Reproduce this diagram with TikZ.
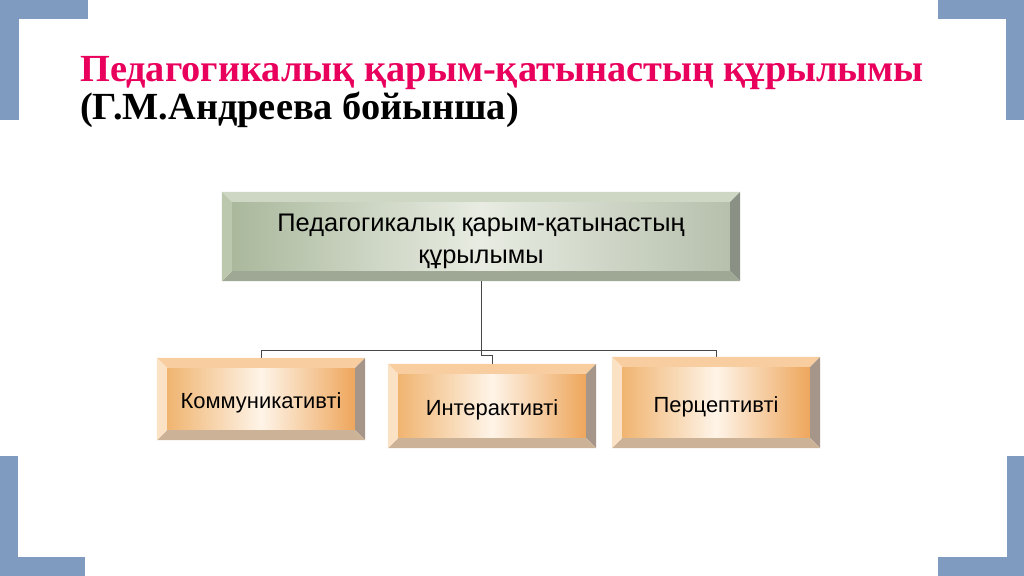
\documentclass[tikz,border=0pt]{standalone}
\usepackage{fontspec}
\setmainfont{Liberation Serif}
\newfontfamily\boxfont{Liberation Sans}
\usetikzlibrary{calc}
\definecolor{frameblue}{RGB}{127,155,192}
\definecolor{titlepink}{RGB}{232,0,92}
\definecolor{gFace}{RGB}{170,184,156}
\definecolor{gRightFace}{RGB}{182,192,172}
\definecolor{gLight}{RGB}{232,236,226}
\definecolor{gT}{RGB}{206,214,196}
\definecolor{gL}{RGB}{188,200,174}
\definecolor{gB}{RGB}{158,168,148}
\definecolor{gR}{RGB}{138,144,132}
\definecolor{oFace}{RGB}{240,180,112}
\definecolor{oRightFace}{RGB}{238,166,92}
\definecolor{oLight}{RGB}{254,244,232}
\definecolor{oT}{RGB}{248,206,160}
\definecolor{oL}{RGB}{251,226,196}
\definecolor{oB}{RGB}{204,178,150}
\definecolor{oR}{RGB}{166,150,138}
\definecolor{connc}{RGB}{70,70,70}
\tikzset{
  greenface/.style={draw=none, shading=axis, left color=gFace, right color=gRightFace, middle color=gLight, shading angle=90, inner sep=0pt, align=center, font=\boxfont\fontsize{25.5}{32}\selectfont},
  orangeface/.style={draw=none, shading=axis, left color=oFace, right color=oRightFace, middle color=oLight, shading angle=90, inner sep=0pt, align=center, font=\boxfont\fontsize{22}{26}\selectfont},
  conn/.style={draw=connc, line width=1bp},
  corner/.style={fill=frameblue},
  titlefont/.style={font=\bfseries\fontsize{38.5}{42}\selectfont},
}
\newcommand\bevelbox[3]{%
  \fill[#3T] ($(#1.north west)+(-#2,-#2)$) -- ($(#1.north east)+(#2,-#2)$) -- (#1.north east) -- (#1.north west) -- cycle;
  \fill[#3R] ($(#1.north east)+(#2,-#2)$) -- ($(#1.south east)+(#2,#2)$) -- (#1.south east) -- (#1.north east) -- cycle;
  \fill[#3B] ($(#1.south east)+(#2,#2)$) -- ($(#1.south west)+(-#2,#2)$) -- (#1.south west) -- (#1.south east) -- cycle;
  \fill[#3L] ($(#1.south west)+(-#2,#2)$) -- ($(#1.north west)+(-#2,-#2)$) -- (#1.north west) -- (#1.south west) -- cycle;
}
\newcommand\pushdown[1]{\rule{0pt}{#1bp}}
\begin{document}
\begin{tikzpicture}[x=1bp,y=-1bp]
\useasboundingbox (0,0) rectangle (1024,576);
% corner frames
\fill[corner] (0,0) rectangle (88,19);
\fill[corner] (0,0) rectangle (19,120);
\fill[corner] (938,0) rectangle (1024,19);
\fill[corner] (1006,0) rectangle (1024,120);
\fill[corner] (0,557) rectangle (85,576);
\fill[corner] (0,456) rectangle (18,576);
\fill[corner] (938,557) rectangle (1024,576);
\fill[corner] (1007,456) rectangle (1024,576);
% title
\node[anchor=base west, inner sep=0pt, text=titlepink, titlefont] (t1) at (80,82) {Педагогикалық қарым-қатынастың құрылымы};
\node[anchor=base west, inner sep=0pt, titlefont] (t2) at (80,120) {(Г.М.Андреева бойынша)};
% faces
\node[greenface, minimum width=498bp, minimum height=69bp] (top) at (481,236.5) {\pushdown{27}Педагогикалық қарым-қатынастың\\құрылымы};
\node[orangeface, minimum width=188bp, minimum height=62bp] (c1) at (261,399) {\pushdown{24}Коммуникативті};
\node[orangeface, minimum width=188bp, minimum height=64bp] (c2) at (492,406) {\pushdown{24}Интерактивті};
\node[orangeface, minimum width=188bp, minimum height=71bp] (c3) at (716,402.5) {\pushdown{24}Перцептивті};
% connectors
\coordinate (bus) at (481,350);
\draw[conn] (top.south) -- (top.south |- bus) -| (c1.north);
\draw[conn] (top.south |- bus) -| (c3.north);
\draw[conn] (top.south |- bus) -- ++(0,5) -| (c2.north);
% bevels
\bevelbox{top}{10}{g}
\bevelbox{c1}{10}{o}
\bevelbox{c2}{10}{o}
\bevelbox{c3}{10}{o}
\end{tikzpicture}
\end{document}
